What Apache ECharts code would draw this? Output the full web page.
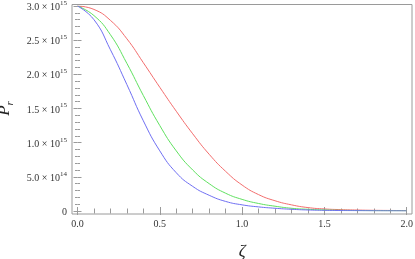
<!DOCTYPE html>
<html>
<head>
<meta charset="utf-8">
<script src="https://cdn.jsdelivr.net/npm/echarts@6/dist/echarts.min.js"></script>
<style>
html,body{margin:0;padding:0;background:#fff;}
#c{width:415px;height:259px;}
</style>
</head>
<body>
<div id="c"></div>
<script>
// zeta sample points
const zeta = [0.0,0.1,0.2,0.3,0.4,0.5,0.6,0.7,0.8,0.9,1.0,1.1,1.2,1.3,1.4,1.5,1.6,1.7,1.8,1.9,2.0];
// P_r values in units of 10^15
const redP   = [3.00,2.95,2.79,2.52,2.17,1.81,1.46,1.13,0.83,0.58,0.38,0.24,0.15,0.09,0.05,0.03,0.02,0.014,0.01,0.008,0.006];
const greenP = [3.00,2.86,2.58,2.16,1.69,1.25,0.88,0.60,0.40,0.26,0.17,0.11,0.07,0.04,0.025,0.015,0.01,0.007,0.005,0.004,0.003];
const blueP  = [3.00,2.80,2.36,1.85,1.32,0.88,0.56,0.36,0.23,0.14,0.09,0.06,0.04,0.025,0.015,0.01,0.007,0.005,0.003,0.002,0.001];
// tick labels
const xTickValues = [0.0,0.5,1.0,1.5,2.0];
const xTickText = ['0.0','0.5','1.0','1.5','2.0'];
const yTickValues = [0,0.5,1.0,1.5,2.0,2.5,3.0];
const yTickText = ['0','5.0 × 10^14','1.0 × 10^15','1.5 × 10^15','2.0 × 10^15','2.5 × 10^15','3.0 × 10^15'];

function pairs(xs, ys){ return xs.map((x,i)=>[x, ys[i]]); }
function findLabel(vals, texts, v){
  for (let i=0;i<vals.length;i++) if (Math.abs(vals[i]-v)<1e-9) return texts[i];
  return '';
}
function yFmt(v){
  const t = findLabel(yTickValues, yTickText, v);
  const m = t.match(/^(.*) × 10\^(\d+)$/);
  if (m) return '{b|' + m[1] + ' × 10}{s|' + m[2] + '}';
  return '{b|' + t + '}';
}

const grey = '#9a9a9a';
const serif = '"Liberation Serif", "Times New Roman", serif';
const chart = echarts.init(document.getElementById('c'), null, {renderer:'canvas'});
const tickStyle = {show:true, inside:true, length:4, lineStyle:{color:grey, width:1}};
const minorStyle = {show:true, splitNumber:5, length:2.5, lineStyle:{color:grey, width:1}};

chart.setOption({
  animation:false,
  backgroundColor:'#fff',
  grid:[
    {left:72, right:3, top:4.5, bottom:45, show:true, borderColor:grey, borderWidth:1, backgroundColor:'transparent',
      containLabel:false, outerBoundsMode:'none'},
    {left:77.5, right:8.3, top:6, bottom:48, containLabel:false, outerBoundsMode:'none'}
  ],
  xAxis:[
    {gridIndex:0, type:'value', show:false, min:0, max:1},
    {gridIndex:1, type:'value', min:0, max:2, interval:0.5, position:'bottom', offset:3,
      axisLine:{show:false}, axisTick:tickStyle, minorTick:minorStyle, splitLine:{show:false},
      axisLabel:{margin:5, color:'#333', fontFamily:serif, fontSize:10,
        formatter:v=>findLabel(xTickValues, xTickText, v)},
      name:'ζ', nameLocation:'middle', nameGap:29,
      nameTextStyle:{fontFamily:serif, fontStyle:'italic', fontSize:17, color:'#222'}},
    {gridIndex:1, type:'value', min:0, max:2, interval:0.5, position:'top', offset:1.5,
      axisLine:{show:false}, axisTick:tickStyle, minorTick:minorStyle, splitLine:{show:false},
      axisLabel:{show:false}}
  ],
  yAxis:[
    {gridIndex:0, type:'value', show:false, min:0, max:1},
    {gridIndex:1, type:'value', min:0, max:3.0, interval:0.5, position:'left', offset:5.5,
      axisLine:{show:false}, axisTick:tickStyle, minorTick:minorStyle, splitLine:{show:false},
      axisLabel:{margin:5, formatter:yFmt,
        rich:{
          b:{fontFamily:serif, fontSize:10, color:'#333', lineHeight:13, verticalAlign:'bottom'},
          s:{fontFamily:serif, fontSize:7, color:'#333', lineHeight:8, verticalAlign:'top'}
        }},
      name:'{p|P}{r|r}', nameLocation:'middle', nameGap:55, nameRotate:90,
      nameTextStyle:{rich:{
        p:{fontFamily:serif, fontStyle:'italic', fontSize:17, color:'#222', lineHeight:20, verticalAlign:'top'},
        r:{fontFamily:serif, fontStyle:'italic', fontSize:11, color:'#222', lineHeight:11, verticalAlign:'bottom'}
      }}},
    {gridIndex:1, type:'value', min:0, max:3.0, interval:0.5, position:'right', offset:5.3,
      axisLine:{show:false}, axisTick:tickStyle, minorTick:minorStyle, splitLine:{show:false},
      axisLabel:{show:false}}
  ],
  series:[
    {type:'line', xAxisIndex:1, yAxisIndex:1, data:pairs(zeta, redP), smooth:0.5, showSymbol:false,
      lineStyle:{color:'#f26d6d', width:1}},
    {type:'line', xAxisIndex:1, yAxisIndex:1, data:pairs(zeta, greenP), smooth:0.5, showSymbol:false,
      lineStyle:{color:'#5fe05f', width:1}},
    {type:'line', xAxisIndex:1, yAxisIndex:1, data:pairs(zeta, blueP), smooth:0.5, showSymbol:false,
      lineStyle:{color:'#6f6ff2', width:1}}
  ]
});
</script>
</body>
</html>
